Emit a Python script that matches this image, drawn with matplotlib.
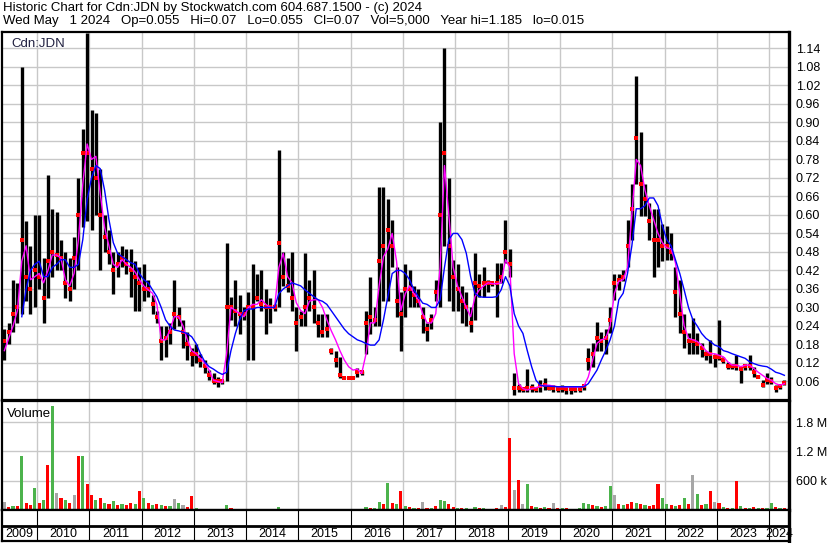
import numpy as np
import pandas as pd
import matplotlib
matplotlib.use('Agg')
import matplotlib.pyplot as plt

plt.rcParams['font.family'] = ['Liberation Sans', 'DejaVu Sans']

# monthly bars, May 2009 .. Apr 2024
months = pd.date_range('2009-05-01', '2024-04-01', freq='MS')

hi = [0.23, 0.25, 0.39, 0.38, 1.08, 0.58, 0.50, 0.60,
      0.60, 0.46, 0.73, 0.62, 0.61, 0.52, 0.48, 0.46, 0.53, 0.72, 0.88, 1.19,
      0.94, 0.93, 0.75, 0.60, 0.55, 0.48, 0.48, 0.50, 0.49, 0.49, 0.45, 0.43,
      0.44, 0.39, 0.34, 0.29, 0.24, 0.24, 0.25, 0.39, 0.30, 0.26, 0.22, 0.17,
      0.18, 0.15, 0.13, 0.097, 0.086, 0.075, 0.064, 0.51, 0.335, 0.39, 0.34, 0.30,
      0.35, 0.44, 0.41, 0.42, 0.36, 0.33, 0.31, 0.81, 0.48, 0.46, 0.48, 0.30,
      0.29, 0.475, 0.39, 0.42, 0.28, 0.28, 0.28, 0.17, 0.16, 0.14, 0.075, 0.075,
      0.075, 0.105, 0.095, 0.29, 0.40, 0.30, 0.69, 0.69, 0.65, 0.585, 0.43, 0.35,
      0.44, 0.42, 0.37, 0.36, 0.30, 0.25, 0.28, 0.39, 0.90, 1.14, 0.72, 0.455,
      0.44, 0.37, 0.35, 0.30, 0.476, 0.41, 0.43, 0.39, 0.385, 0.445, 0.445, 0.585,
      0.49, 0.086, 0.053, 0.043, 0.10, 0.053, 0.043, 0.064, 0.07, 0.043, 0.048, 0.043,
      0.048, 0.043, 0.043, 0.043, 0.043, 0.053, 0.17, 0.184, 0.254, 0.22, 0.23, 0.30,
      0.41, 0.41, 0.42, 0.585, 0.70, 1.05, 0.87, 0.70, 0.64, 0.62, 0.62, 0.57,
      0.565, 0.54, 0.43, 0.39, 0.28, 0.216, 0.265, 0.216, 0.184, 0.16, 0.195, 0.15,
      0.26, 0.14, 0.124, 0.118, 0.145, 0.108, 0.118, 0.145, 0.108, 0.08, 0.064, 0.086,
      0.075, 0.048, 0.053, 0.064]

lo = [0.13, 0.18, 0.22, 0.25, 0.28, 0.32, 0.28, 0.30,
      0.36, 0.25, 0.33, 0.40, 0.42, 0.42, 0.33, 0.32, 0.36, 0.42, 0.56, 0.58,
      0.55, 0.60, 0.42, 0.48, 0.44, 0.345, 0.40, 0.43, 0.41, 0.335, 0.29, 0.29,
      0.32, 0.335, 0.28, 0.25, 0.13, 0.14, 0.18, 0.23, 0.24, 0.17, 0.13, 0.11,
      0.12, 0.108, 0.086, 0.064, 0.053, 0.043, 0.053, 0.06, 0.26, 0.24, 0.215, 0.26,
      0.13, 0.13, 0.32, 0.29, 0.215, 0.25, 0.29, 0.30, 0.37, 0.35, 0.29, 0.16,
      0.24, 0.24, 0.29, 0.25, 0.205, 0.205, 0.205, 0.15, 0.108, 0.07, 0.07, 0.07,
      0.07, 0.075, 0.08, 0.15, 0.215, 0.24, 0.24, 0.32, 0.32, 0.43, 0.27, 0.16,
      0.27, 0.30, 0.30, 0.30, 0.216, 0.19, 0.23, 0.32, 0.30, 0.50, 0.32, 0.29,
      0.29, 0.25, 0.24, 0.22, 0.26, 0.335, 0.335, 0.35, 0.37, 0.27, 0.38, 0.445,
      0.40, 0.015, 0.026, 0.026, 0.026, 0.026, 0.026, 0.026, 0.032, 0.032, 0.026, 0.026,
      0.026, 0.021, 0.021, 0.026, 0.026, 0.032, 0.097, 0.108, 0.16, 0.16, 0.15, 0.216,
      0.325, 0.357, 0.385, 0.43, 0.52, 0.70, 0.595, 0.595, 0.52, 0.40, 0.43, 0.45,
      0.455, 0.455, 0.27, 0.216, 0.167, 0.15, 0.15, 0.15, 0.14, 0.13, 0.12, 0.108,
      0.13, 0.12, 0.102, 0.102, 0.097, 0.056, 0.097, 0.097, 0.075, 0.07, 0.043, 0.053,
      0.053, 0.026, 0.037, 0.048]

cl = [0.19, 0.22, 0.28, 0.30, 0.52, 0.40, 0.36, 0.42,
      0.40, 0.33, 0.45, 0.48, 0.47, 0.46, 0.38, 0.36, 0.46, 0.60, 0.80, 0.80,
      0.75, 0.72, 0.60, 0.53, 0.48, 0.42, 0.44, 0.46, 0.44, 0.42, 0.40, 0.38,
      0.36, 0.36, 0.31, 0.27, 0.19, 0.20, 0.22, 0.28, 0.27, 0.22, 0.18, 0.15,
      0.15, 0.13, 0.11, 0.08, 0.06, 0.06, 0.06, 0.30, 0.30, 0.29, 0.28, 0.28,
      0.30, 0.30, 0.33, 0.31, 0.30, 0.30, 0.30, 0.51, 0.40, 0.37, 0.33, 0.25,
      0.27, 0.30, 0.33, 0.30, 0.25, 0.22, 0.23, 0.16, 0.13, 0.08, 0.07, 0.07,
      0.07, 0.09, 0.09, 0.25, 0.27, 0.26, 0.45, 0.50, 0.55, 0.50, 0.32, 0.28,
      0.36, 0.36, 0.34, 0.32, 0.27, 0.23, 0.26, 0.35, 0.60, 0.80, 0.50, 0.40,
      0.36, 0.32, 0.30, 0.25, 0.38, 0.37, 0.38, 0.38, 0.38, 0.38, 0.40, 0.48,
      0.44, 0.04, 0.04, 0.035, 0.04, 0.04, 0.035, 0.045, 0.05, 0.04, 0.04, 0.035,
      0.04, 0.035, 0.035, 0.035, 0.035, 0.045, 0.13, 0.15, 0.20, 0.19, 0.20, 0.26,
      0.38, 0.39, 0.40, 0.50, 0.62, 0.85, 0.70, 0.65, 0.58, 0.52, 0.52, 0.50,
      0.50, 0.48, 0.35, 0.28, 0.22, 0.19, 0.19, 0.18, 0.17, 0.15, 0.15, 0.14,
      0.14, 0.13, 0.11, 0.11, 0.11, 0.10, 0.11, 0.11, 0.09, 0.075, 0.05, 0.065,
      0.06, 0.04, 0.045, 0.055]

ma_fast = [0.16, 0.20, 0.24, 0.29, 0.45, 0.50, 0.39, 0.40,
           0.41, 0.38, 0.42, 0.47, 0.47, 0.46, 0.39, 0.37, 0.41, 0.52, 0.70, 0.83,
           0.78, 0.79, 0.67, 0.56, 0.50, 0.44, 0.43, 0.455, 0.44, 0.43, 0.415, 0.39,
           0.37, 0.357, 0.346, 0.31, 0.195, 0.195, 0.227, 0.27, 0.27, 0.24, 0.195, 0.16,
           0.15, 0.135, 0.12, 0.097, 0.064, 0.06, 0.056, 0.15, 0.30, 0.29, 0.28, 0.27,
           0.30, 0.31, 0.31, 0.325, 0.31, 0.30, 0.30, 0.43, 0.475, 0.40, 0.38, 0.315,
           0.29, 0.28, 0.32, 0.325, 0.325, 0.30, 0.26, 0.225, 0.195, 0.16, 0.13, 0.108,
           0.097, 0.10, 0.086, 0.15, 0.25, 0.25, 0.37, 0.465, 0.49, 0.54, 0.45, 0.29,
           0.345, 0.37, 0.345, 0.325, 0.28, 0.25, 0.25, 0.28, 0.43, 0.76, 0.60, 0.43,
           0.37, 0.335, 0.30, 0.27, 0.335, 0.357, 0.37, 0.38, 0.377, 0.377, 0.38, 0.455,
           0.43, 0.15, 0.053, 0.037, 0.032, 0.037, 0.04, 0.045, 0.048, 0.048, 0.045, 0.043,
           0.043, 0.042, 0.042, 0.042, 0.042, 0.045, 0.075, 0.13, 0.184, 0.195, 0.20, 0.24,
           0.346, 0.385, 0.39, 0.43, 0.60, 0.78, 0.76, 0.68, 0.63, 0.585, 0.54, 0.51,
           0.493, 0.49, 0.445, 0.345, 0.24, 0.20, 0.195, 0.19, 0.178, 0.16, 0.15, 0.15,
           0.145, 0.14, 0.124, 0.113, 0.113, 0.108, 0.113, 0.113, 0.102, 0.09, 0.08, 0.07,
           0.064, 0.053, 0.048, 0.053]

ma_slow = [None, None, None, None, 0.27, 0.36, 0.42, 0.44,
           0.45, 0.40, 0.40, 0.43, 0.44, 0.455, 0.455, 0.43, 0.43, 0.44, 0.52, 0.65,
           0.72, 0.76, 0.75, 0.68, 0.585, 0.51, 0.475, 0.465, 0.455, 0.445, 0.44, 0.41,
           0.39, 0.38, 0.357, 0.335, 0.30, 0.26, 0.24, 0.227, 0.224, 0.22, 0.215, 0.205,
           0.183, 0.15, 0.124, 0.108, 0.10, 0.09, 0.083, 0.09, 0.16, 0.215, 0.26, 0.29,
           0.295, 0.295, 0.30, 0.30, 0.30, 0.30, 0.30, 0.345, 0.36, 0.37, 0.38, 0.375,
           0.37, 0.357, 0.346, 0.335, 0.325, 0.32, 0.31, 0.29, 0.27, 0.25, 0.23, 0.215,
           0.205, 0.195, 0.19, 0.183, 0.178, 0.178, 0.195, 0.26, 0.335, 0.41, 0.42, 0.42,
           0.41, 0.39, 0.357, 0.335, 0.314, 0.31, 0.30, 0.30, 0.325, 0.43, 0.52, 0.54,
           0.54, 0.52, 0.476, 0.40, 0.345, 0.335, 0.333, 0.333, 0.333, 0.335, 0.357, 0.40,
           0.37, 0.28, 0.24, 0.216, 0.16, 0.108, 0.064, 0.048, 0.045, 0.045, 0.044, 0.043,
           0.043, 0.043, 0.043, 0.043, 0.043, 0.043, 0.053, 0.075, 0.097, 0.13, 0.16, 0.195,
           0.24, 0.325, 0.346, 0.41, 0.50, 0.62, 0.62, 0.63, 0.655, 0.655, 0.63, 0.565,
           0.52, 0.50, 0.455, 0.41, 0.357, 0.30, 0.26, 0.24, 0.216, 0.20, 0.19, 0.178,
           0.173, 0.16, 0.156, 0.15, 0.145, 0.14, 0.135, 0.124, 0.118, 0.113, 0.11, 0.108,
           0.10, 0.09, 0.086, 0.08]

# volume in thousands of shares, colour code r=down g=up k=unchanged
vol_k = [160, 60, 90, 80, 1100, 150, 100, 440,
         150, 200, 930, 2130, 350, 250, 200, 150, 300, 1100, 1100, 530,
         300, 200, 250, 150, 120, 180, 100, 120, 100, 150, 120, 380,
         250, 150, 100, 130, 100, 90, 80, 220, 140, 100, 60, 290,
         40, 30, 30, 20, 20, 15, 10, 100, 40, 30, 25, 20,
         20, 30, 20, 15, 15, 10, 10, 60, 30, 20, 20, 15,
         15, 20, 10, 10, 15, 10, 10, 10, 10, 15, 5, 5,
         5, 10, 10, 60, 50, 40, 170, 120, 550, 150, 120, 390,
         80, 60, 50, 40, 160, 40, 50, 80, 200, 180, 120, 60,
         50, 40, 40, 30, 60, 40, 40, 30, 20, 40, 100, 60,
         1480, 400, 610, 120, 530, 80, 60, 50, 60, 40, 140, 40,
         50, 40, 30, 30, 40, 140, 120, 100, 80, 70, 90, 490,
         300, 120, 100, 130, 170, 150, 120, 100, 80, 110, 530, 240,
         120, 100, 80, 100, 240, 130, 720, 330, 100, 120, 390, 170,
         140, 60, 50, 40, 590, 80, 50, 40, 60, 40, 50, 40,
         140, 60, 50, 40]
vol_dir = ("krgrgrrg" "rgrgkrgrkrgr" "rgrgrgrgrrgr" "grgrgrgkgkrr"
           "grgrrgrgrgrg" "rgrgrgrgrgrg" "rgrgrgrrgrkk" "kgrgrggrgrgr"
           "grgrkrgrggrr" "grgrgrgrkrkr" "rkrkgrgrgrkr" "grgrgggrgrgg"
           "krgrrgrgrrrg" "grgrgrkgrgrk" "rgrgrgrgrgrg" "grgr")

years = list(range(2009, 2025))
header1 = "Historic Chart for Cdn:JDN by Stockwatch.com 604.687.1500 - (c) 2024"
header2 = ("Wed May   1 2024   Op=0.055   Hi=0.07   Lo=0.055   Cl=0.07   "
           "Vol=5,000   Year hi=1.185   lo=0.015")

t = months.year + (months.month - 0.5) / 12.0
x0, x1 = 2009.33, 2024.38
grid_c = '#c8c8c8'
dir_col = {'r': '#ff0000', 'g': '#4cb34c', 'k': '#a6a6a6'}

fig = plt.figure(figsize=(8.30, 5.43), dpi=100)
W, H = 830.0, 543.0
def box(left, top, right, bottom):
    return [left / W, 1 - bottom / H, (right - left) / W, (bottom - top) / H]

ax = fig.add_axes(box(2, 32, 789, 400))
av = fig.add_axes(box(2, 401, 789, 510))
ay = fig.add_axes(box(2, 510, 789, 541))

# price panel
ax.vlines(t, lo, hi, colors='black', linewidth=2.4)
ax.plot(t, cl, 's', color='red', ms=2.4, mew=0)
ax.plot(t, ma_fast, color='#ff00ff', lw=1.0)
ax.plot(t, np.array(ma_slow, dtype=float), color='#0000ff', lw=1.0)
ax.set_xlim(x0, x1)
ax.set_ylim(0.0, 1.193)
pticks = [round(0.06 * k, 2) for k in range(1, 20)]
ax.set_yticks(pticks)
ax.set_yticklabels(['%.2f' % v for v in pticks])
ax.set_xticks(years[1:])
ax.set_xticklabels([])
ax.yaxis.tick_right()
ax.grid(True, color=grid_c, lw=1.0)
ax.set_axisbelow(True)
ax.tick_params(length=0, labelsize=9, pad=5)
ax.text(0.012, 0.985, 'Cdn:JDN', transform=ax.transAxes, ha='left', va='top',
        fontsize=9.5, color='#202040')

# volume panel
av.bar(t, vol_k, width=0.06, color=[dir_col[c] for c in vol_dir], linewidth=0)
av.set_xlim(x0, x1)
av.set_ylim(0, 2230)
av.set_yticks([600, 1200, 1800])
av.set_yticklabels(['600 k', '1.2 M', '1.8 M'])
av.set_xticks(years[1:])
av.set_xticklabels([])
av.yaxis.tick_right()
av.grid(True, color=grid_c, lw=1.0)
av.set_axisbelow(True)
av.tick_params(length=0, labelsize=9, pad=5)
av.text(0.006, 0.94, 'Volume', transform=av.transAxes, ha='left', va='top',
        fontsize=9.5)

# year strip
ay.set_xlim(x0, x1)
ay.set_ylim(0, 2)
ay.axhline(0.95, color='black', lw=2)
ay.vlines(years[1:], 0, 2, colors='black', lw=0.8)
edges = [x0] + years[1:] + [x1]
for i, yr in enumerate(years):
    ay.text((edges[i] + edges[i + 1]) / 2, 0.42, str(yr), ha='center',
            va='center', fontsize=9)
ay.set_xticks([])
ay.set_yticks([])

for a in (ax, av, ay):
    for s in a.spines.values():
        s.set_linewidth(1.6)
    a.spines['right'].set_linewidth(2.4)

fig.text(3 / W, 1 - 8 / H, header1, ha='left', va='center', fontsize=9.5)
fig.text(3 / W, 1 - 21 / H, header2, ha='left', va='center', fontsize=9.5)

fig.savefig('out.png', dpi=100)
